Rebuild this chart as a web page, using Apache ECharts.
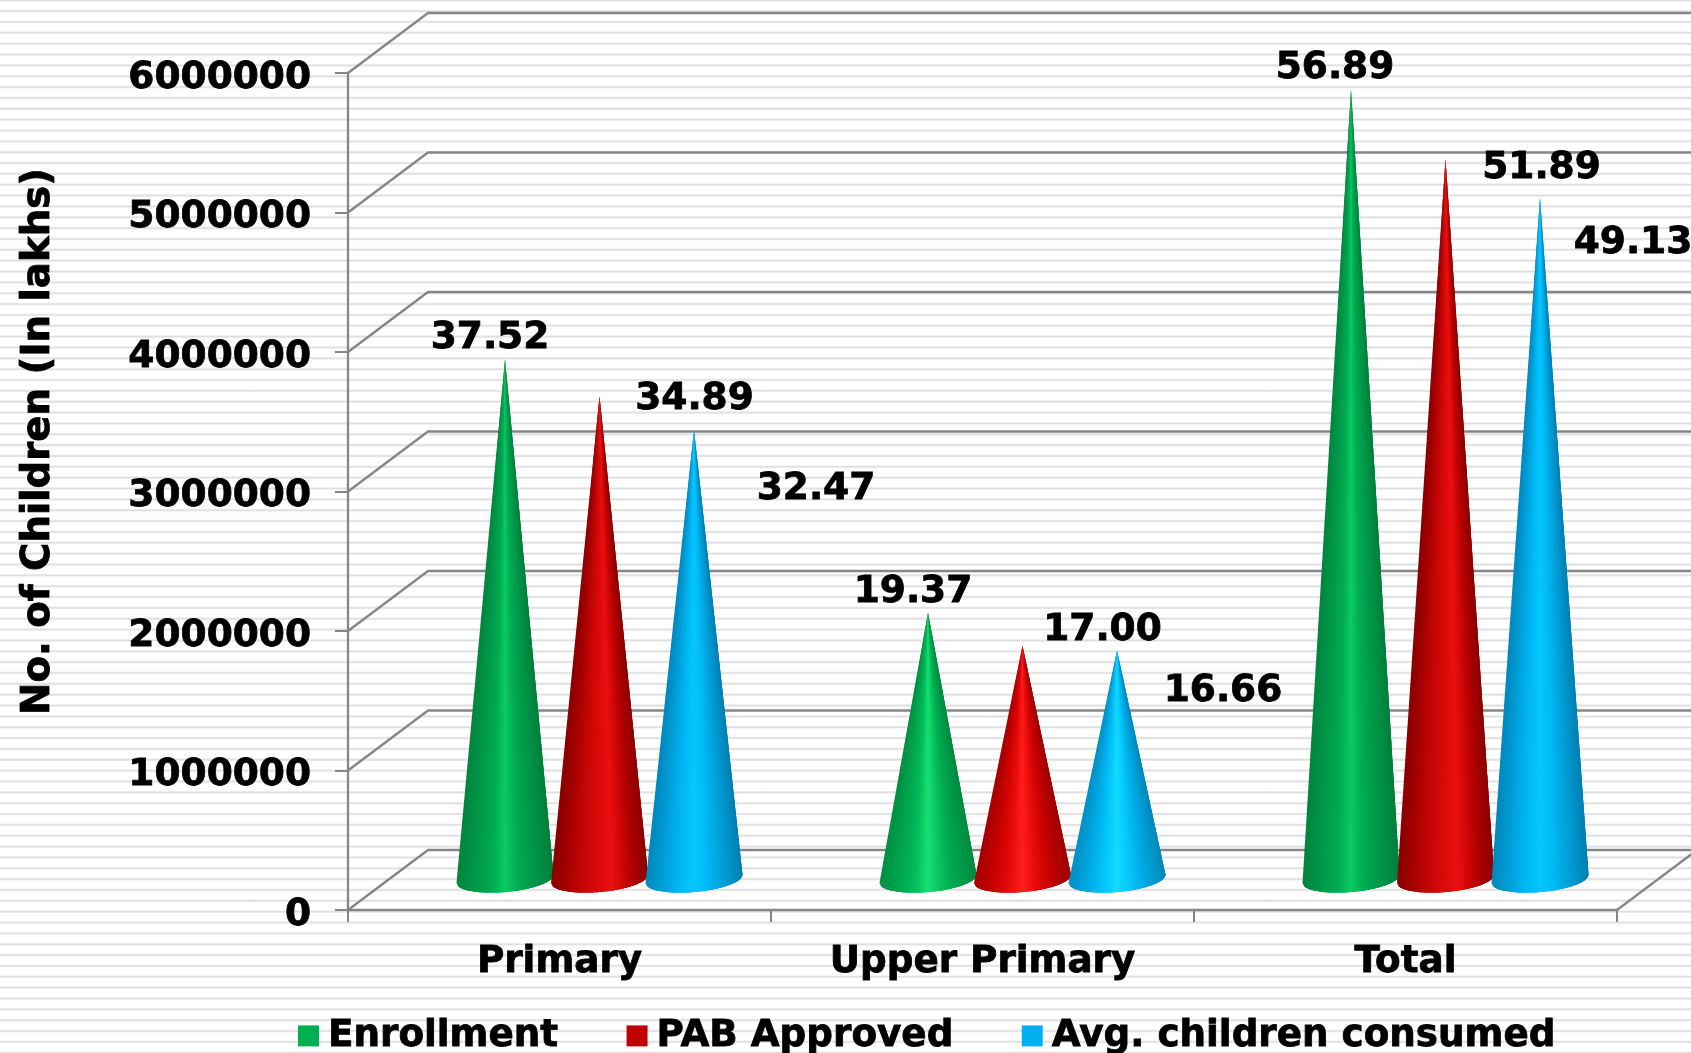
<!DOCTYPE html>
<html>
<head>
<meta charset="utf-8">
<style>
  html, body { margin: 0; padding: 0; }
  body {
    background-color: #fff;
    background-image: repeating-linear-gradient(to bottom,
      #e0e0e0 0, #e0e0e0 0.6px, #f2f2f2 1.4px, #ffffff 2px, #ffffff 9.3px, #f2f2f2 10px, #e0e0e0 10.85px);
  }
  #main { width: 1691px; height: 1053px; }
</style>
</head>
<body>
<div id="main"></div>
<script src="https://cdn.jsdelivr.net/npm/echarts@6/dist/echarts.min.js"></script>
<script>
// chart data
const categories = ["Primary", "Upper Primary", "Total"];
const enrollment = [3752000, 1937000, 5689000];
const pabApproved = [3489000, 1700000, 5189000];
const avgConsumed = [3247000, 1666000, 4913000];
const yTicks = [0, 1000000, 2000000, 3000000, 4000000, 5000000, 6000000];

// value labels sit away from the cone tips, per series then per category
const labelShift = [
  [[-15, -21], [-15, -21], [-16, -21]],
  [[95, 3], [80, -16], [96, 9]],
  [[122, 59], [106, 41], [93, 46]],
];
// left to right shading round the cone, the middle category is lit brighter
const legendColors = ["#00b050", "#c00000", "#00b0f0"];
const greenShade = ["#00843d", "#009246", "#009f4c", "#00ad53", "#0cca62", "#00ae54", "#009d4b", "#008f44", "#007f3a"];
const redShade = ["#8a0000", "#a00000", "#b80404", "#cc0808", "#dc0a0a", "#ea1010", "#cc0606", "#a80000", "#8c0000"];
const blueShade = ["#0088bc", "#0098d0", "#00aae6", "#00bbf6", "#06c6ff", "#00bcf8", "#00a8e2", "#0094cc", "#007fb0"];
const greenBright = ["#008f42", "#009e4a", "#00ad52", "#04c05e", "#18e072", "#08c460", "#00aa50", "#009a48", "#008a40"];
const redBright = ["#a40000", "#bc0000", "#d40404", "#ea0c0c", "#ff1e1e", "#ea0c0c", "#d00404", "#b40000", "#a00000"];
const blueBright = ["#0090c6", "#00a0d8", "#00b4ee", "#06c8fc", "#12daff", "#06c8fc", "#00b0ea", "#009cd4", "#0088b8"];
const coneShades = [
  [greenShade, greenBright, greenShade],
  [redShade, redBright, redShade],
  [blueShade, blueBright, blueShade],
];

const FONT = "DejaVu Sans";
const DEPTH_X = 80;
const DEPTH_Y = 60;
const CONE_STEP = 94.5;
const CONE_RX = 48.5;
const CONE_BULGE = 13;
const CONE_TILT = 8;
const CONE_SLICES = 60;

// back wall and floor lines of the fake 3d box
function renderWall(params, api) {
  const rect = params.coordSys;
  const y = api.coord([0, api.value(0)])[1];
  const left = rect.x;
  const lineStyle = { stroke: "#868686", lineWidth: 2.3, fill: "none" };
  const children = [
    { type: "polyline", shape: { points: [[left, y], [left + DEPTH_X, y - DEPTH_Y], [left + rect.width + DEPTH_X, y - DEPTH_Y]] }, style: lineStyle },
  ];
  if (api.value(0) === 0) {
    const right = left + rect.width;
    children.push({ type: "line", shape: { x1: right, y1: y, x2: right + DEPTH_X, y2: y - DEPTH_Y }, style: lineStyle });
  }
  return { type: "group", children: children };
}

function basePoint(cx, by, u) {
  const bend = Math.sqrt(Math.max(0, 1 - (2 * u - 1) * (2 * u - 1)));
  return [cx - CONE_RX + 2 * CONE_RX * u, by - CONE_TILT * u + CONE_BULGE * bend];
}

function makeCone(seriesIndex) {
  return function (params, api) {
    const cat = api.value(0);
    const val = api.value(1);
    const base = api.coord([cat, 0]);
    const tip = api.coord([cat, val]);
    const cx = base[0] + DEPTH_X / 2 + (seriesIndex - 1) * CONE_STEP;
    const by = base[1] - DEPTH_Y / 2 + 3;
    const ty = tip[1] - DEPTH_Y / 2 + 3;
    const shade = coneShades[seriesIndex][cat];
    const shift = labelShift[seriesIndex][cat];
    const children = [];
    // thin slices from the tip to the base so the shading narrows with the cone,
    // each one runs on under the next so no seams show
    for (let k = 0; k < CONE_SLICES; k++) {
      const u0 = k / CONE_SLICES;
      const u1 = Math.min(1, (k + 3) / CONE_SLICES);
      const color = echarts.color.lerp((k + 0.5) / CONE_SLICES, shade);
      children.push({
        type: "polygon",
        shape: { points: [[cx, ty], basePoint(cx, by, u0), basePoint(cx, by, (k + 1) / CONE_SLICES), basePoint(cx, by, u1)] },
        style: { fill: color },
      });
    }
    children.push({
      type: "text",
      x: cx + shift[0],
      y: ty + shift[1],
      style: {
        text: (val / 100000).toFixed(2),
        fill: "#000",
        stroke: "#000",
        lineWidth: 0.8,
        font: "bold 37.5px " + FONT,
        align: "center",
        verticalAlign: "middle",
      },
    });
    return { type: "group", children: children };
  };
}

const seriesNames = ["Enrollment", "PAB Approved", "Avg. children consumed"];
const seriesValues = [enrollment, pabApproved, avgConsumed];

const chart = echarts.init(document.getElementById("main"), null, { renderer: "canvas" });
const option = {
  backgroundColor: "transparent",
  animation: false,
  grid: { left: 348, right: 74, top: 73, bottom: 143, containLabel: false },
  legend: {
    data: seriesNames,
    left: 293,
    top: 1012,
    itemWidth: 21,
    itemHeight: 21,
    itemGap: 68,
    icon: "rect",
    textStyle: { fontFamily: FONT, fontWeight: "bold", fontSize: 37.3, color: "#000", textBorderColor: "#000", textBorderWidth: 0.8, padding: [0, 0, 0, 4] },
  },
  xAxis: {
    type: "category",
    data: categories,
    axisLine: { lineStyle: { color: "#868686", width: 2.3 } },
    axisTick: { show: true, length: 12, lineStyle: { color: "#868686", width: 2 } },
    axisLabel: { margin: 34, color: "#000", fontFamily: FONT, fontWeight: "bold", fontSize: 37.3, textBorderColor: "#000", textBorderWidth: 0.8 },
    splitLine: { show: false },
  },
  yAxis: {
    type: "value",
    min: 0,
    max: 6000000,
    interval: 1000000,
    name: "No. of Children (In lakhs)",
    nameLocation: "middle",
    nameRotate: 90,
    nameGap: 290,
    nameTextStyle: { color: "#000", fontFamily: FONT, fontWeight: "bold", fontSize: 38.7, textBorderColor: "#000", textBorderWidth: 0.8, padding: [0, 0, 0, 100] },
    axisLine: { show: true, lineStyle: { color: "#868686", width: 2.3 } },
    axisTick: { show: true, length: 13, lineStyle: { color: "#868686", width: 2 } },
    axisLabel: {
      margin: 37,
      color: "#000",
      fontFamily: FONT,
      fontWeight: "bold",
      fontSize: 37.5,
      textBorderColor: "#000",
      textBorderWidth: 0.8,
      verticalAlign: "top",
      lineHeight: 10,
      formatter: function (v) { return String(v); },
    },
    splitLine: { show: false },
  },
  series: [
    {
      name: "wall",
      type: "custom",
      coordinateSystem: "cartesian2d",
      silent: true,
      z: 1,
      clip: false,
      encode: { y: 0 },
      data: yTicks.map(function (t) { return [t]; }),
      renderItem: renderWall,
    },
  ].concat(seriesNames.map(function (name, i) {
    return {
      name: name,
      type: "custom",
      coordinateSystem: "cartesian2d",
      z: 3,
      clip: false,
      itemStyle: { color: legendColors[i] },
      encode: { x: 0, y: 1 },
      data: seriesValues[i].map(function (v, k) { return [k, v]; }),
      renderItem: makeCone(i),
    };
  })),
};
chart.setOption(option);
window.addEventListener("resize", function () { chart.resize(); });
</script>
</body>
</html>
